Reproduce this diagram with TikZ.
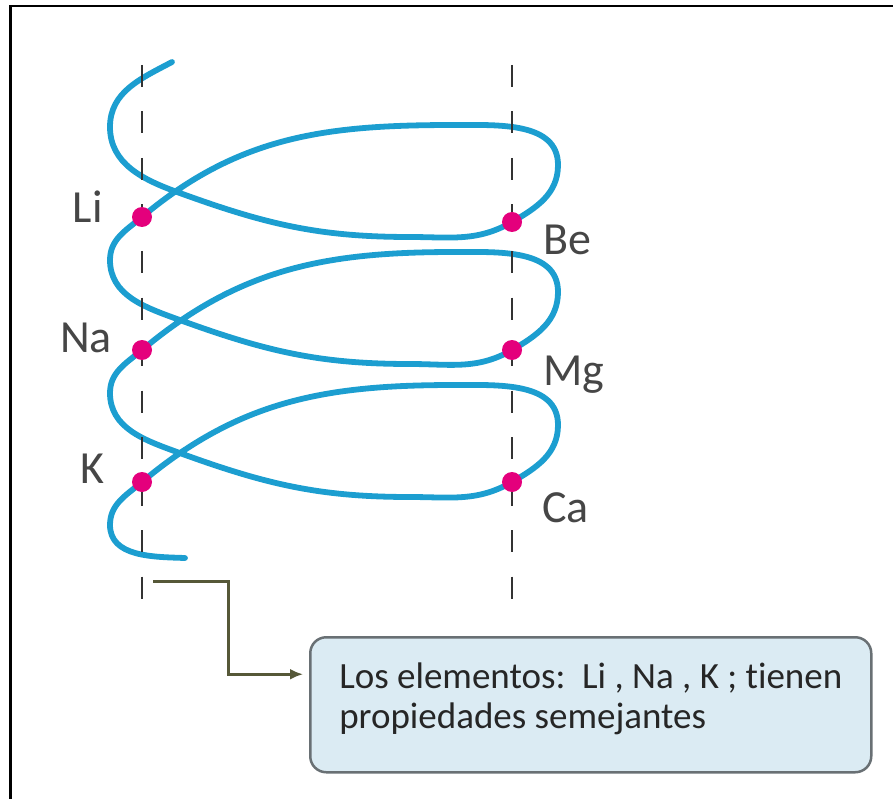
\documentclass[tikz,border=0pt]{standalone}
\usepackage{fontspec}
\usetikzlibrary{arrows.meta}
\newfontfamily\cajafont[Ligatures=NoCommon]{Carlito}
\definecolor{espiral}{RGB}{28,158,208}
\definecolor{rosa}{RGB}{228,0,124}
\definecolor{oliva}{RGB}{86,88,56}
\definecolor{celeste}{RGB}{219,235,243}
\definecolor{borde}{RGB}{105,112,116}
\definecolor{gris}{RGB}{70,70,70}

\begin{document}
\begin{tikzpicture}[x=1pt, y=1pt,
    espira/.style={espiral, line width=5.8pt, line cap=round},
    guia/.style={black!80, line width=2.5pt, dash pattern=on 22pt off 24.5pt},
    punto/.style={circle, fill=rosa, inner sep=0pt, minimum size=20pt},
    simbolo/.style={gris, inner sep=0pt, font=\cajafont\fontsize{46}{50}\selectfont},
    caja/.style={draw=borde, line width=2.5pt, fill=celeste, rounded corners=16pt,
      minimum width=561pt, minimum height=135pt, align=left, text=black!85,
      font=\cajafont\fontsize{37}{40}\selectfont},
    flecha/.style={oliva, line width=3pt, -{Latex[length=13pt,width=11pt]}, shorten >=6pt}]
  \useasboundingbox (0,0) rectangle (893,-799);
  % marco
  \draw[line width=2.5pt] (10.5,-799) -- (10.5,-6) -- (893,-6);

  % puntos de cada elemento
  \foreach \el/\x/\y in {Li/142/217,Na/142/350,K/142/482,Be/512/222,Mg/512/350,Ca/512/482}
    \coordinate (c\el) at (\x,-\y);

  % espiral: una vuelta por periodo
  \draw[espira] (172,-62) to[out=208,in=90] (110,-127)
    \foreach \b/\c/\rd/\ld in {0/0/Be/Li,133/127/Mg/Na,265/260/Ca/K} {
      to[out=270,in=160] (177,-192-\c)
      to[out=340,in=180] (410,-237-\c)
      to[out=0,in=210] (c\rd)
      to[out=30,in=270] (558,-165-\c)
      to[out=90,in=0] (455,-125-\c)
      to[out=180,in=40] (c\ld)
      to[out=220,in=90] (110,-260-\b)
    }
    to[out=270,in=178] (185,-558);

  % grupos (columnas)
  \draw[guia] (142,-65) -- (142,-599);
  \draw[guia] (512,-65) -- (512,-599);

  \foreach \el in {Li,Na,K,Be,Mg,Ca}
    \node[punto] (\el) at (c\el) {};

  \foreach \el/\x/\y in {Li/103/223,Na/112/352,K/105/483}
    \node[simbolo, anchor=base east] (t\el) at (\x,-\y) {\el};
  \foreach \el/\x/\y in {Be/543/255,Mg/543/385,Ca/542/522}
    \node[simbolo, anchor=base west] (t\el) at (\x,-\y) {\el};

  \coordinate (grupo) at (153,-581);
  \node[caja, anchor=north west] (nota) at (309,-636)
    {Los elementos:~~Li , Na , K ; tienen\\propiedades semejantes\rule[-18pt]{0pt}{0pt}};
  \draw[flecha] (grupo) -- ++(75,0) |- ([yshift=30.5pt]nota.west);
\end{tikzpicture}
\end{document}
